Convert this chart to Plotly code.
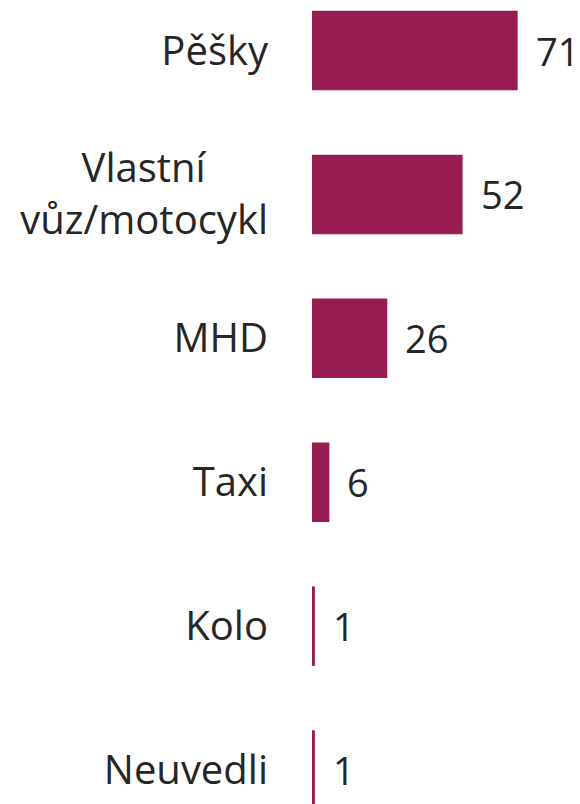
import plotly.graph_objects as go

NB = "\u00a0"
categories = ["Pěšky", "Vlastní" + NB * 6 + "<br>vůz/motocykl", "MHD", "Taxi", "Kolo", "Neuvedli"]
values = [71, 52, 26, 6, 1, 1]

bar_color = "#961C52"
text_color = "#262626"
font_family = "Open Sans, Noto Sans, sans-serif"

fig = go.Figure()
fig.add_trace(go.Bar(
    x=values,
    y=categories,
    orientation="h",
    marker=dict(color=bar_color, line=dict(width=0)),
    hoverinfo="skip",
    cliponaxis=False,
))

for v, c in zip(values, categories):
    fig.add_annotation(
        x=v, y=c, text=str(v), showarrow=False,
        xanchor="left", yanchor="middle", xshift=16,
        font=dict(family=font_family, size=38, color=text_color),
    )

fig.update_layout(
    width=580, height=804,
    margin=dict(l=312, r=0, t=0, b=0, autoexpand=False),
    paper_bgcolor="white", plot_bgcolor="white",
    bargap=0.448,
    showlegend=False,
    font=dict(family=font_family, size=38, color=text_color),
)
fig.update_xaxes(range=[0, 92.54], visible=False, fixedrange=True, automargin=False)
fig.update_yaxes(
    type="category",
    range=[5.236, -0.351],
    showgrid=False, zeroline=False, showline=False,
    ticks="", ticklabelstandoff=43, automargin=False,
    tickfont=dict(family=font_family, size=40, color=text_color),
    fixedrange=True,
)

fig.write_html(
    "out.html",
    config={"displayModeBar": False},
    post_script="document.body.style.margin='0';document.body.style.overflow='hidden';",
)
